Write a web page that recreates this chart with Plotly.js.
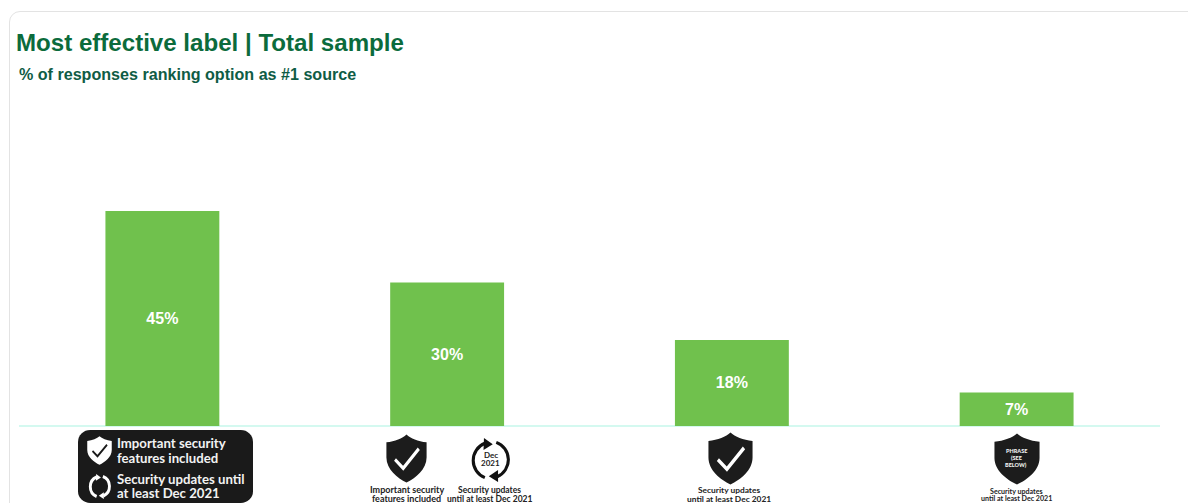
<!DOCTYPE html>
<html>
<head>
<meta charset="utf-8">
<script src="https://cdn.plot.ly/plotly-3.0.1.min.js"></script>
<style>
html,body{margin:0;padding:0;background:#fff;overflow:hidden;width:1188px;height:503px}
#card{position:absolute;left:9px;top:11px;width:1300px;height:600px;border:1px solid #e3e3e3;border-radius:11px;box-sizing:border-box}
#chart{position:absolute;left:0;top:0;width:1188px;height:503px}
</style>
</head>
<body>
<div id="card"></div>
<div id="chart"></div>
<script>
const categories = ["Option A", "Option B", "Option C", "Option D"];
const shares = [45, 30, 18, 7];
const shareLabels = ["45%", "30%", "18%", "7%"];
const chartTitle = "Most effective label | Total sample";
const chartSubtitle = "% of responses ranking option as #1 source";

const W = 1188, H = 503, mL = 20, mR = 29, mT = 100, mB = 77;
const px = x => (x - mL) / (W - mL - mR);
const py = y => (H - mB - y) / (H - mT - mB);

const svgUri = s => "data:image/svg+xml," + encodeURIComponent(
  '<svg xmlns="http://www.w3.org/2000/svg" width="200" height="200" preserveAspectRatio="none" viewBox="0 0 100 100">' + s + '</svg>');

const shieldPath = "M50 1 C40 9 22 15 1 17 L1 48 C1 72 28 90 50 99 C72 90 99 72 99 48 L99 17 C78 15 60 9 50 1 Z";
const shieldCheck = (fill, check) =>
  `<path d="${shieldPath}" fill="${fill}"/><path d="M22 52 L42 70 L80 30" fill="none" stroke="${check}" stroke-width="7"/>`;
const shieldPlain = fill => `<path d="${shieldPath}" fill="${fill}"/>`;
const arrows = (c, w) =>
  `<path d="M36 90 A42 42 0 0 1 36 12" fill="none" stroke="${c}" stroke-width="${w}"/>` +
  `<path d="M34 0 L54 14 L33 27 Z" fill="${c}"/>` +
  `<path d="M62 10 A42 42 0 0 1 64 88" fill="none" stroke="${c}" stroke-width="${w}"/>` +
  `<path d="M66 100 L45 87 L66 73 Z" fill="${c}"/>`;

function image(svg, x0, y0, x1, y1) {
  return {source: svgUri(svg), xref: "paper", yref: "paper", x: px(x0), y: py(y0),
    sizex: px(x1) - px(x0), sizey: py(y0) - py(y1), sizing: "stretch",
    xanchor: "left", yanchor: "top", layer: "above"};
}
function note(text, x, y, size, color, weight, align) {
  return {text, xref: "paper", yref: "paper", x: px(x), y: py(y), showarrow: false,
    xanchor: align || "center", yanchor: "middle", align: align || "center",
    font: {family: "Lato, sans-serif", size, color, weight: weight || 700}};
}

const images = [
  image('<rect x="0" y="0" width="100" height="100" rx="7" ry="16" fill="#1a1a1a"/>', 78, 430, 253, 503),
  image(shieldCheck("#ffffff", "#1a1a1a"), 87, 436, 112, 465),
  image(arrows("#ffffff", 12), 88, 474, 112, 499),
  image(shieldCheck("#1c1c1c", "#ffffff"), 386, 434, 427, 483),
  image(arrows("#111111", 7), 469, 438, 513, 482),
  image(shieldCheck("#1c1c1c", "#ffffff"), 708, 432, 753, 485),
  image(shieldPlain("#1c1c1c"), 994, 433, 1040, 485)
];

const annotations = [
  {text: chartSubtitle, xref: "paper", yref: "paper", x: px(17), y: py(74), showarrow: false,
   xanchor: "left", yanchor: "middle", font: {family: "Liberation Sans, Arial, sans-serif", size: 16.1, color: "#0f5c45", weight: 700}},
  note("Important security", 115, 443, 13.2, "#f2f2f2", 700, "left"),
  note("features included", 115, 457.5, 13.2, "#f2f2f2", 700, "left"),
  note("Security updates until", 115, 479, 13.2, "#f2f2f2", 700, "left"),
  note("at least Dec 2021", 115, 493, 13.2, "#f2f2f2", 700, "left"),
  note("Important security", 406.5, 489.5, 9, "#222222"),
  note("features included", 406.5, 498.5, 9, "#222222"),
  note("Security updates", 489, 490, 8.5, "#222222"),
  note("until at least Dec 2021", 490, 498.5, 8.5, "#222222"),
  note("Dec", 490.5, 455, 8, "#222222"),
  note("2021", 490.5, 463.5, 8, "#222222"),
  note("Security updates", 729, 490, 8.4, "#222222"),
  note("until at least Dec 2021", 729, 498.5, 8.4, "#222222"),
  note("PHRASE", 1016, 451, 5.5, "#f2f2f2", 900),
  note("(SEE", 1016, 458, 5.5, "#f2f2f2", 900),
  note("BELOW)", 1016, 465, 5.5, "#f2f2f2", 900),
  note("Security updates", 1016, 491, 7.1, "#222222"),
  note("until at least Dec 2021", 1016, 498.5, 7.1, "#222222")
];

const trace = {
  type: "bar", x: categories, y: shares, text: shareLabels,
  textposition: "inside", insidetextanchor: "middle", textangle: 0,
  constraintext: "none", cliponaxis: false,
  marker: {color: "#70C14D", line: {width: 0}},
  textfont: {family: "Liberation Sans, Arial, sans-serif", size: 16, color: "#ffffff", weight: 700},
  hoverinfo: "x+y"
};

const layout = {
  width: W, height: H, autosize: false,
  margin: {l: mL, r: mR, t: mT, b: mB, pad: 0},
  paper_bgcolor: "rgba(0,0,0,0)", plot_bgcolor: "rgba(0,0,0,0)",
  title: {text: chartTitle, xref: "container", yref: "container", x: 16 / W, xanchor: "left",
    y: 1 - 43 / H, yanchor: "middle", pad: {l: 0, r: 0, t: 0, b: 0},
    font: {family: "Liberation Sans, Arial, sans-serif", size: 24.1, color: "#0b6b3c", weight: 700}},
  xaxis: {type: "category", range: [-0.5, 3.5], showticklabels: false, ticks: "",
    showgrid: false, zeroline: false, showline: false},
  yaxis: {range: [0, 68.2], visible: false, showgrid: false, zeroline: false},
  shapes: [{type: "line", xref: "paper", yref: "paper", x0: px(19), x1: px(1160), y0: 0, y1: 0,
    line: {color: "#d4f9f0", width: 2}, layer: "below"}],
  bargap: 0.6, showlegend: false, images, annotations
};

Plotly.newPlot("chart", [trace], layout, {displayModeBar: false, staticPlot: true});
</script>
</body>
</html>
